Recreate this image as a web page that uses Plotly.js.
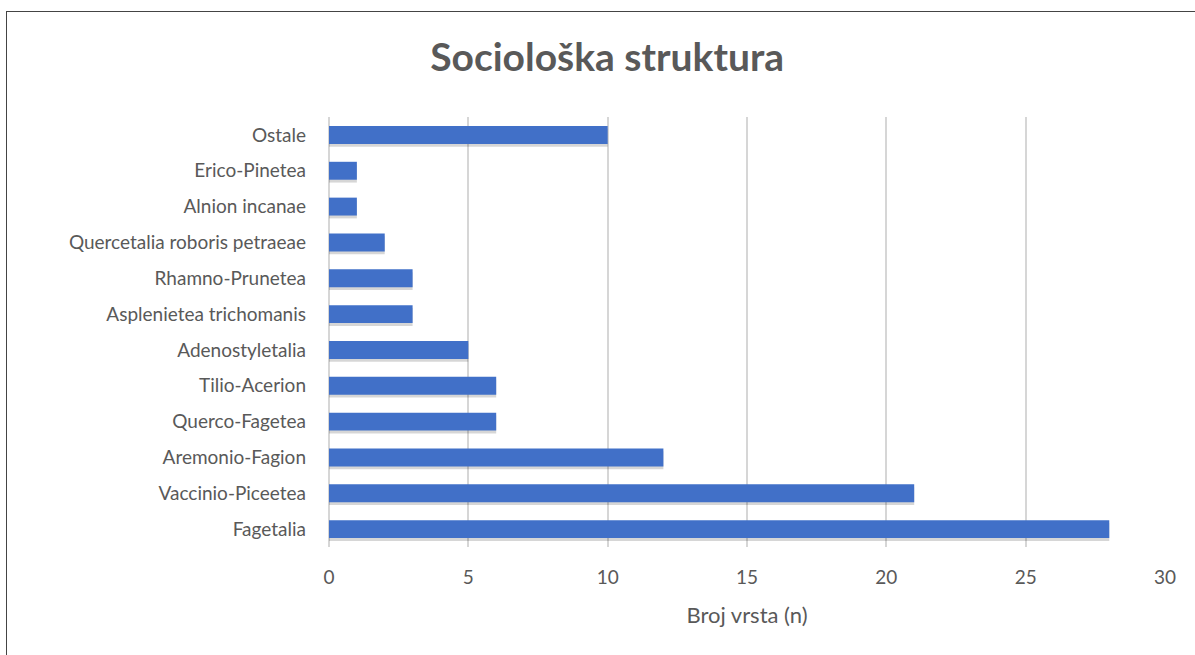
<!DOCTYPE html>
<html>
<head>
<meta charset="utf-8">
<script src="https://cdn.plot.ly/plotly-3.0.1.min.js"></script>
<style>
  html, body { margin: 0; padding: 0; background: #fff; }
  #wrap { position: relative; width: 1195px; height: 655px; overflow: hidden; }
  #frame { position: absolute; left: 6px; top: 11px; width: 1300px; height: 800px;
           border-left: 1.5px solid #444; border-top: 1.5px solid #444; pointer-events: none; }
  #chart { position: absolute; left: 0; top: 0; width: 1195px; height: 655px; }
</style>
</head>
<body>
<div id="wrap">
  <div id="chart"></div>
  <div id="frame"></div>
</div>
<script>
const categories = ["Fagetalia", "Vaccinio-Piceetea", "Aremonio-Fagion", "Querco-Fagetea",
  "Tilio-Acerion", "Adenostyletalia", "Asplenietea trichomanis", "Rhamno-Prunetea",
  "Quercetalia roboris petraeae", "Alnion incanae", "Erico-Pinetea", "Ostale"];
const values = [28, 21, 12, 6, 6, 5, 3, 3, 2, 1, 1, 10];
const xTicks = [0, 5, 10, 15, 20, 25, 30];

const font = "Lato, 'Open Sans', sans-serif";

const shadow = {
  type: "bar", orientation: "h", y: categories, x: values,
  width: 0.5, offset: -0.33,
  marker: { color: "rgba(0,0,0,0.16)", line: { width: 0 } },
  hoverinfo: "skip", showlegend: false
};
const bars = {
  type: "bar", orientation: "h", y: categories, x: values,
  width: 0.5, offset: -0.25,
  marker: { color: "#4170c8", line: { width: 0 } },
  showlegend: false
};

const layout = {
  width: 1195, height: 655,
  margin: { l: 329, r: 30, t: 117, b: 108 },
  paper_bgcolor: "rgba(0,0,0,0)", plot_bgcolor: "rgba(0,0,0,0)",
  barmode: "overlay",
  title: { text: "<b>Sociološka struktura</b>", x: 0.508, xanchor: "center", y: 0.913, yanchor: "middle",
           font: { family: font, size: 39, color: "#595959" } },
  xaxis: {
    range: [0, 30], tickvals: xTicks, ticktext: xTicks.map(String),
    showgrid: true, gridcolor: "#d6d6d6", gridwidth: 1.8,
    zeroline: true, zerolinecolor: "#d6d6d6", zerolinewidth: 1.8,
    showline: false, ticks: "", ticklen: 0,
    ticklabelstandoff: 17,
    tickfont: { family: font, size: 19, color: "#595959" },
    title: { text: "Broj vrsta (n)", standoff: 20, font: { family: font, size: 22, color: "#595959" } }
  },
  yaxis: {
    type: "category", categoryorder: "array", categoryarray: categories,
    range: [-0.5, 11.5],
    showgrid: false, zeroline: false, showline: false, ticks: "",
    ticklabelstandoff: 22,
    tickfont: { family: font, size: 19, color: "#595959" }
  }
};

Plotly.newPlot("chart", [shadow, bars], layout, { displayModeBar: false, staticPlot: true });
</script>
</body>
</html>
